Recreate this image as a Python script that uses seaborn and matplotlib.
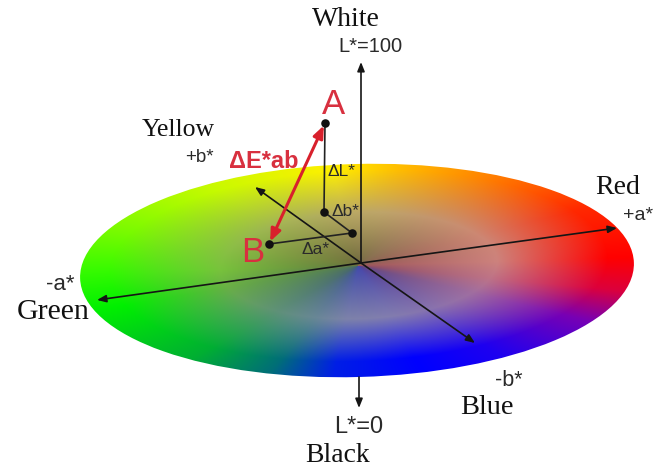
# imports
import numpy as np
import pandas as pd
import matplotlib.pyplot as plt
import seaborn as sns
from matplotlib.patches import Ellipse

# colour stops round the disc, angle in degrees from +a* going through +b*
hue_angles = [0, 30, 60, 81, 96, 124, 156, 180, 200, 234, 252, 265, 283, 300, 325, 342, 360]
edge_r = [255, 255, 255, 255, 255, 200, 120, 50, 0, 0, 0, 0, 0, 30, 120, 220, 255]
edge_g = [0, 40, 130, 190, 240, 250, 250, 250, 240, 175, 110, 30, 0, 0, 0, 0, 0]
edge_b = [0, 0, 0, 0, 0, 0, 0, 0, 0, 50, 120, 230, 255, 240, 180, 60, 0]

# grey colours half way out and at the hub, same angles
mid_r = [205, 205, 195, 190, 185, 165, 140, 120, 105, 95, 105, 125, 130, 135, 160, 190, 205]
mid_g = [130, 135, 150, 165, 170, 180, 190, 195, 175, 145, 135, 130, 125, 115, 110, 115, 130]
mid_b = [125, 115, 110, 105, 100, 85, 70, 60, 70, 120, 150, 170, 175, 175, 160, 135, 125]
hub_r = [155, 135, 125, 115, 110, 110, 110, 100, 80, 70, 65, 65, 70, 80, 100, 135, 155]
hub_g = [85, 95, 105, 105, 105, 110, 115, 115, 115, 100, 85, 75, 70, 65, 70, 75, 85]
hub_b = [90, 80, 75, 65, 60, 60, 60, 65, 90, 110, 145, 170, 170, 150, 125, 100, 90]
radial_stops = [0.0, 0.5, 0.9]

# marked points of the diagram
point_names = ["A", "A floor", "a/b corner", "B"]
point_x = [325, 324, 352, 269]
point_y = [123, 212, 233, 244]

# arrows and lines as (x0, y0, x1, y1)
black_arrows = [
    (361, 263, 361, 62),
    (359, 377, 359, 408),
    (361, 263, 617, 228),
    (361, 263, 97, 300),
    (361, 263, 255, 187),
    (361, 263, 475, 343),
]
thin_lines = [(325, 123, 324, 212), (324, 212, 352, 233), (352, 233, 269, 244)]
red_arrow = (325, 123, 269, 244)

# labels
serif_labels = [("White", 346, 20, 20), ("Yellow", 178, 130, 18.5), ("Red", 618, 188, 20),
                ("Green", 53, 312, 21.5), ("Blue", 487, 408, 20.5), ("Black", 338, 456, 20)]
sans_labels = [("L*=100", 370, 47, 14.5), ("+b*", 199, 157, 13.5), ("+a*", 638, 215, 14),
               ("-a*", 60, 284, 16), ("-b*", 509, 381, 15.5), ("L*=0", 359, 427, 17),
               ("\u0394L*", 341, 172, 12.5), ("\u0394b*", 346, 212, 12.5), ("\u0394a*", 316, 249, 12.5)]
red_labels = [("A", 334, 105, 25, "normal"), ("B", 253, 253, 25, "normal"),
              ("\u0394E*ab", 264, 162, 17, "bold")]

sns.set_theme(style="white")
plt.rcParams["font.family"] = ["Liberation Sans", "DejaVu Sans"]

fig, ax = plt.subplots(figsize=(6.55, 4.7), dpi=100)
ax.set_position([0, 0, 1, 1])

# colour disc
cx, cy, semi_a, semi_b = 357, 270.5, 277, 106.5
hub_x, hub_y = 358, 266
xx, yy = np.meshgrid(np.arange(70, 645), np.arange(155, 388))
u = (xx - hub_x) / semi_a
v = (hub_y - yy - (xx - hub_x) * 0.03) / semi_b
angle = np.degrees(np.arctan2(v, u)) % 360
radius = np.clip(np.hypot(u, v), 0, 1)


def ring(values):
    return np.interp(angle, hue_angles, values)


disc = np.zeros(xx.shape + (3,))
stops = [(hub_r, mid_r, edge_r), (hub_g, mid_g, edge_g), (hub_b, mid_b, edge_b)]
for i, (hub, mid, edge) in enumerate(stops):
    inner = radius < radial_stops[1]
    t_in = radius / radial_stops[1]
    t_out = np.clip((radius - radial_stops[1]) / (radial_stops[2] - radial_stops[1]), 0, 1)
    disc[..., i] = np.where(inner,
                            ring(hub) + (ring(mid) - ring(hub)) * t_in,
                            ring(mid) + (ring(edge) - ring(mid)) * t_out)

im = ax.imshow(disc / 255, extent=(69.5, 644.5, 387.5, 154.5), aspect="auto", zorder=1)
im.set_clip_path(Ellipse((cx, cy), 2 * semi_a, 2 * semi_b, angle=-1.6, transform=ax.transData))

# axes and difference lines
for x0, y0, x1, y1 in black_arrows:
    ax.annotate("", xy=(x1, y1), xytext=(x0, y0), zorder=3,
                arrowprops=dict(arrowstyle="-|>,head_length=0.45,head_width=0.18", color="#151515",
                                lw=1.2, shrinkA=0, shrinkB=0))
for x0, y0, x1, y1 in thin_lines:
    ax.plot([x0, x1], [y0, y1], color="#222222", lw=1.2, zorder=3)
x0, y0, x1, y1 = red_arrow
ax.annotate("", xy=(x1, y1), xytext=(x0, y0), zorder=4,
            arrowprops=dict(arrowstyle="<|-|>,head_length=0.6,head_width=0.25", color="#d8202c",
                            lw=2.2, shrinkA=2, shrinkB=2))

points = pd.DataFrame({"name": point_names, "x": point_x, "y": point_y})
sns.scatterplot(data=points, x="x", y="y", color="#111111", s=38, linewidth=0, zorder=5, ax=ax)

for text, x, y, size in serif_labels:
    ax.text(x, y, text, family="Liberation Serif", fontsize=size, color="#111111",
            ha="center", va="center", zorder=6)
for text, x, y, size in sans_labels:
    ax.text(x, y, text, fontsize=size, color="#2a2a2a", ha="center", va="center", zorder=6)
for text, x, y, size, weight in red_labels:
    ax.text(x, y, text, fontsize=size, fontweight=weight, color="#d8303f",
            ha="center", va="center", zorder=6)

ax.set_xlim(0, 655)
ax.set_ylim(470, 0)
ax.axis("off")

fig.savefig("out.png", dpi=100)
